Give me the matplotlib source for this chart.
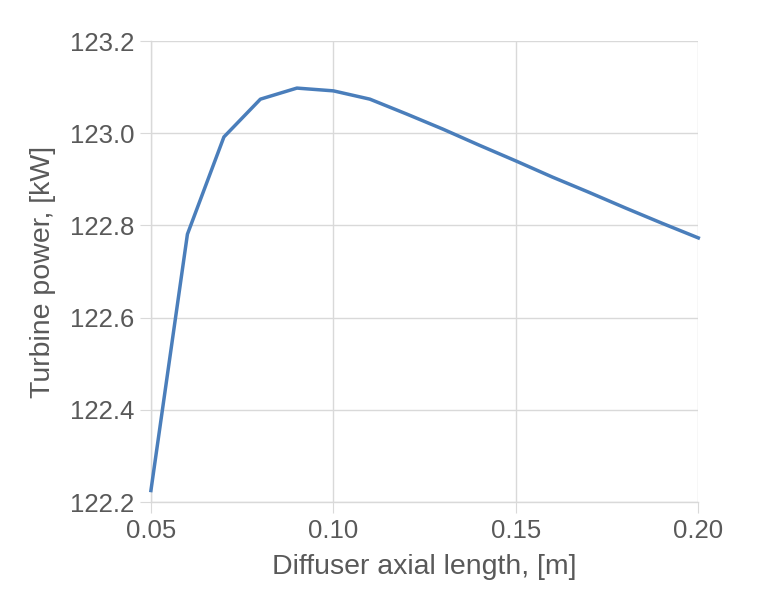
import matplotlib
matplotlib.use("Agg")
import matplotlib.pyplot as plt

x = [0.05, 0.06, 0.07, 0.08, 0.09, 0.10, 0.11, 0.12, 0.13, 0.14, 0.15, 0.16, 0.17, 0.18, 0.19, 0.20]
y = [122.225, 122.781, 122.992, 123.074, 123.098, 123.092, 123.074, 123.042, 123.009, 122.974,
     122.940, 122.905, 122.872, 122.838, 122.805, 122.773]
xticks = [0.05, 0.10, 0.15, 0.20]
yticks = [122.2, 122.4, 122.6, 122.8, 123.0, 123.2]

plt.rcParams['font.family'] = ['Liberation Sans', 'DejaVu Sans']
fig = plt.figure(figsize=(7.82, 6.13), dpi=100)
ax = fig.add_axes([0.193, 0.181, 0.700, 0.752])
ax.plot(x, y, color='#4a7ebb', lw=2.5, clip_on=False, zorder=3)
ax.set_xlim(0.05, 0.20)
ax.set_ylim(122.2, 123.2)
ax.set_xticks(xticks)
ax.set_xticklabels([f"{v:.2f}" for v in xticks])
ax.set_yticks(yticks)
ax.set_yticklabels([f"{v:.1f}" for v in yticks])
ax.grid(True, color='#d9d9d9', lw=1)
ax.set_axisbelow(True)
for k, s in ax.spines.items():
    if k in ('left', 'bottom'):
        s.set_color('#d9d9d9')
        s.set_linewidth(1)
    else:
        s.set_visible(False)
ax.tick_params(axis='both', length=8, color='#d9d9d9', labelsize=18.5, labelcolor='#595959', pad=4)
ax.set_xlabel("Diffuser axial length, [m]", fontsize=20.5, color='#595959', labelpad=8)
ax.set_ylabel("Turbine power, [kW]", fontsize=20.5, color='#595959', labelpad=10)
fig.savefig("out.png", dpi=100)
